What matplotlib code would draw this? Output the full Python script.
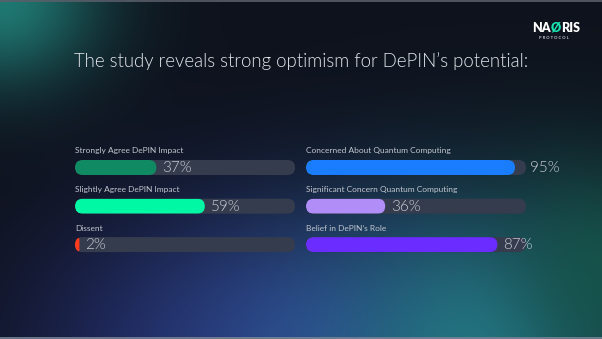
import numpy as np
import matplotlib
matplotlib.use("Agg")
import matplotlib.pyplot as plt
from matplotlib.patches import FancyBboxPatch

W, H = 602, 339
FONT = ["Lato", "DejaVu Sans"]

# Survey results
left_labels = ["Strongly Agree DePIN Impact", "Slightly Agree DePIN Impact", "Dissent"]
left_values = [37, 59, 2]
left_colors = ["#0f8a62", "#00f7a3", "#ff3b1f"]

right_labels = ["Concerned About Quantum Computing", "Significant Concern Quantum Computing",
                "Belief in DePIN\u2019s Role"]
right_values = [95, 36, 87]
right_colors = ["#1a7dff", "#b18ef7", "#6a2cff"]

title = "The study reveals strong optimism for DePIN\u2019s potential:"

# Layout (pixels)
TRACK_W = 220
TRACK_H = 15
COL_X = [75, 306]
ROW_Y = [167.5, 206.2, 244.6]
TRACK_COLOR = "#353c4d"


def background():
    yy, xx = np.mgrid[0:H, 0:W].astype(float)
    img = np.zeros((H, W, 3))
    img[:] = np.array([14, 18, 28]) / 255.0

    def blend(cx, cy, sx, sy, color, strength):
        g = np.exp(-(((xx - cx) / sx) ** 2 + ((yy - cy) / sy) ** 2)) * strength
        c = np.array(color) / 255.0
        return img * (1 - g[..., None]) + c * g[..., None]

    img = blend(0, 0, 100, 85, (32, 125, 118), 0.95)
    img = blend(170, 350, 170, 140, (30, 36, 88), 0.85)
    img = blend(310, 350, 170, 140, (46, 72, 146), 0.95)
    img = blend(480, 350, 150, 150, (36, 120, 134), 0.95)
    img = blend(600, 270, 90, 110, (22, 88, 76), 0.8)
    return np.clip(img, 0, 1)


fig = plt.figure(figsize=(W / 100, H / 100), dpi=100)
ax = fig.add_axes([0, 0, 1, 1])
ax.set_xlim(0, W)
ax.set_ylim(H, 0)
ax.axis("off")
ax.imshow(background(), extent=(0, W, H, 0), aspect="auto", zorder=0)

# thin frame lines top and bottom
ax.axhline(0.6, color="#5a5f6a", lw=1.2, zorder=1)
ax.axhline(H - 1.5, color="#7a8596", lw=1.2, zorder=1)

renderer = fig.canvas.get_renderer()

# title sized to span the content width
t = ax.text(301, 61, title, ha="center", va="center", fontsize=15, color="#e6e8ee",
            family=FONT, fontweight=350, zorder=3)
tw = t.get_window_extent(renderer).width
t.set_fontsize(15 * 455 / tw)

# logo
x = 532
for part, col in [("NA", "white"), ("\u00d8", "#19e3b1"), ("RIS", "white")]:
    p = ax.text(x, 28, part, ha="left", va="center", fontsize=9, color=col,
                family=FONT, fontweight="heavy", zorder=3)
    x += p.get_window_extent(renderer).width
ax.text(554, 38, "P R O T O C O L", ha="center", va="center", fontsize=3, color="#c8ccd4",
        family=FONT, fontweight="bold", zorder=3)


def draw_column(x0, labels, values, colors):
    for label, val, col, yc in zip(labels, values, colors, ROW_Y):
        y0 = yc - TRACK_H / 2
        track = FancyBboxPatch((x0, y0), TRACK_W, TRACK_H,
                               boxstyle=f"round,pad=0,rounding_size={TRACK_H / 2}",
                               facecolor=TRACK_COLOR, edgecolor="none", zorder=2)
        ax.add_patch(track)
        w = TRACK_W * val / 100
        r = min(TRACK_H / 2, w / 2)
        fill = FancyBboxPatch((x0, y0), w, TRACK_H,
                              boxstyle=f"round,pad=0,rounding_size={r}",
                              facecolor=col, edgecolor="none", zorder=3)
        ax.add_patch(fill)
        fill.set_clip_path(track)
        tx = x0 + w + 6
        if val > 90:
            tx = x0 + TRACK_W + 4
        ax.text(tx, yc + 0.5, f"{val}%", ha="left", va="center", fontsize=11,
                color="#c9cdd6", family=FONT, fontweight=350, zorder=4)
        ax.text(x0, yc - 16.5, label, ha="left", va="center", fontsize=6.0,
                color="#c3c7cf", family=FONT, fontweight="normal", zorder=4)


draw_column(COL_X[0], left_labels, left_values, left_colors)
draw_column(COL_X[1], right_labels, right_values, right_colors)

fig.savefig("out.png", dpi=100)
